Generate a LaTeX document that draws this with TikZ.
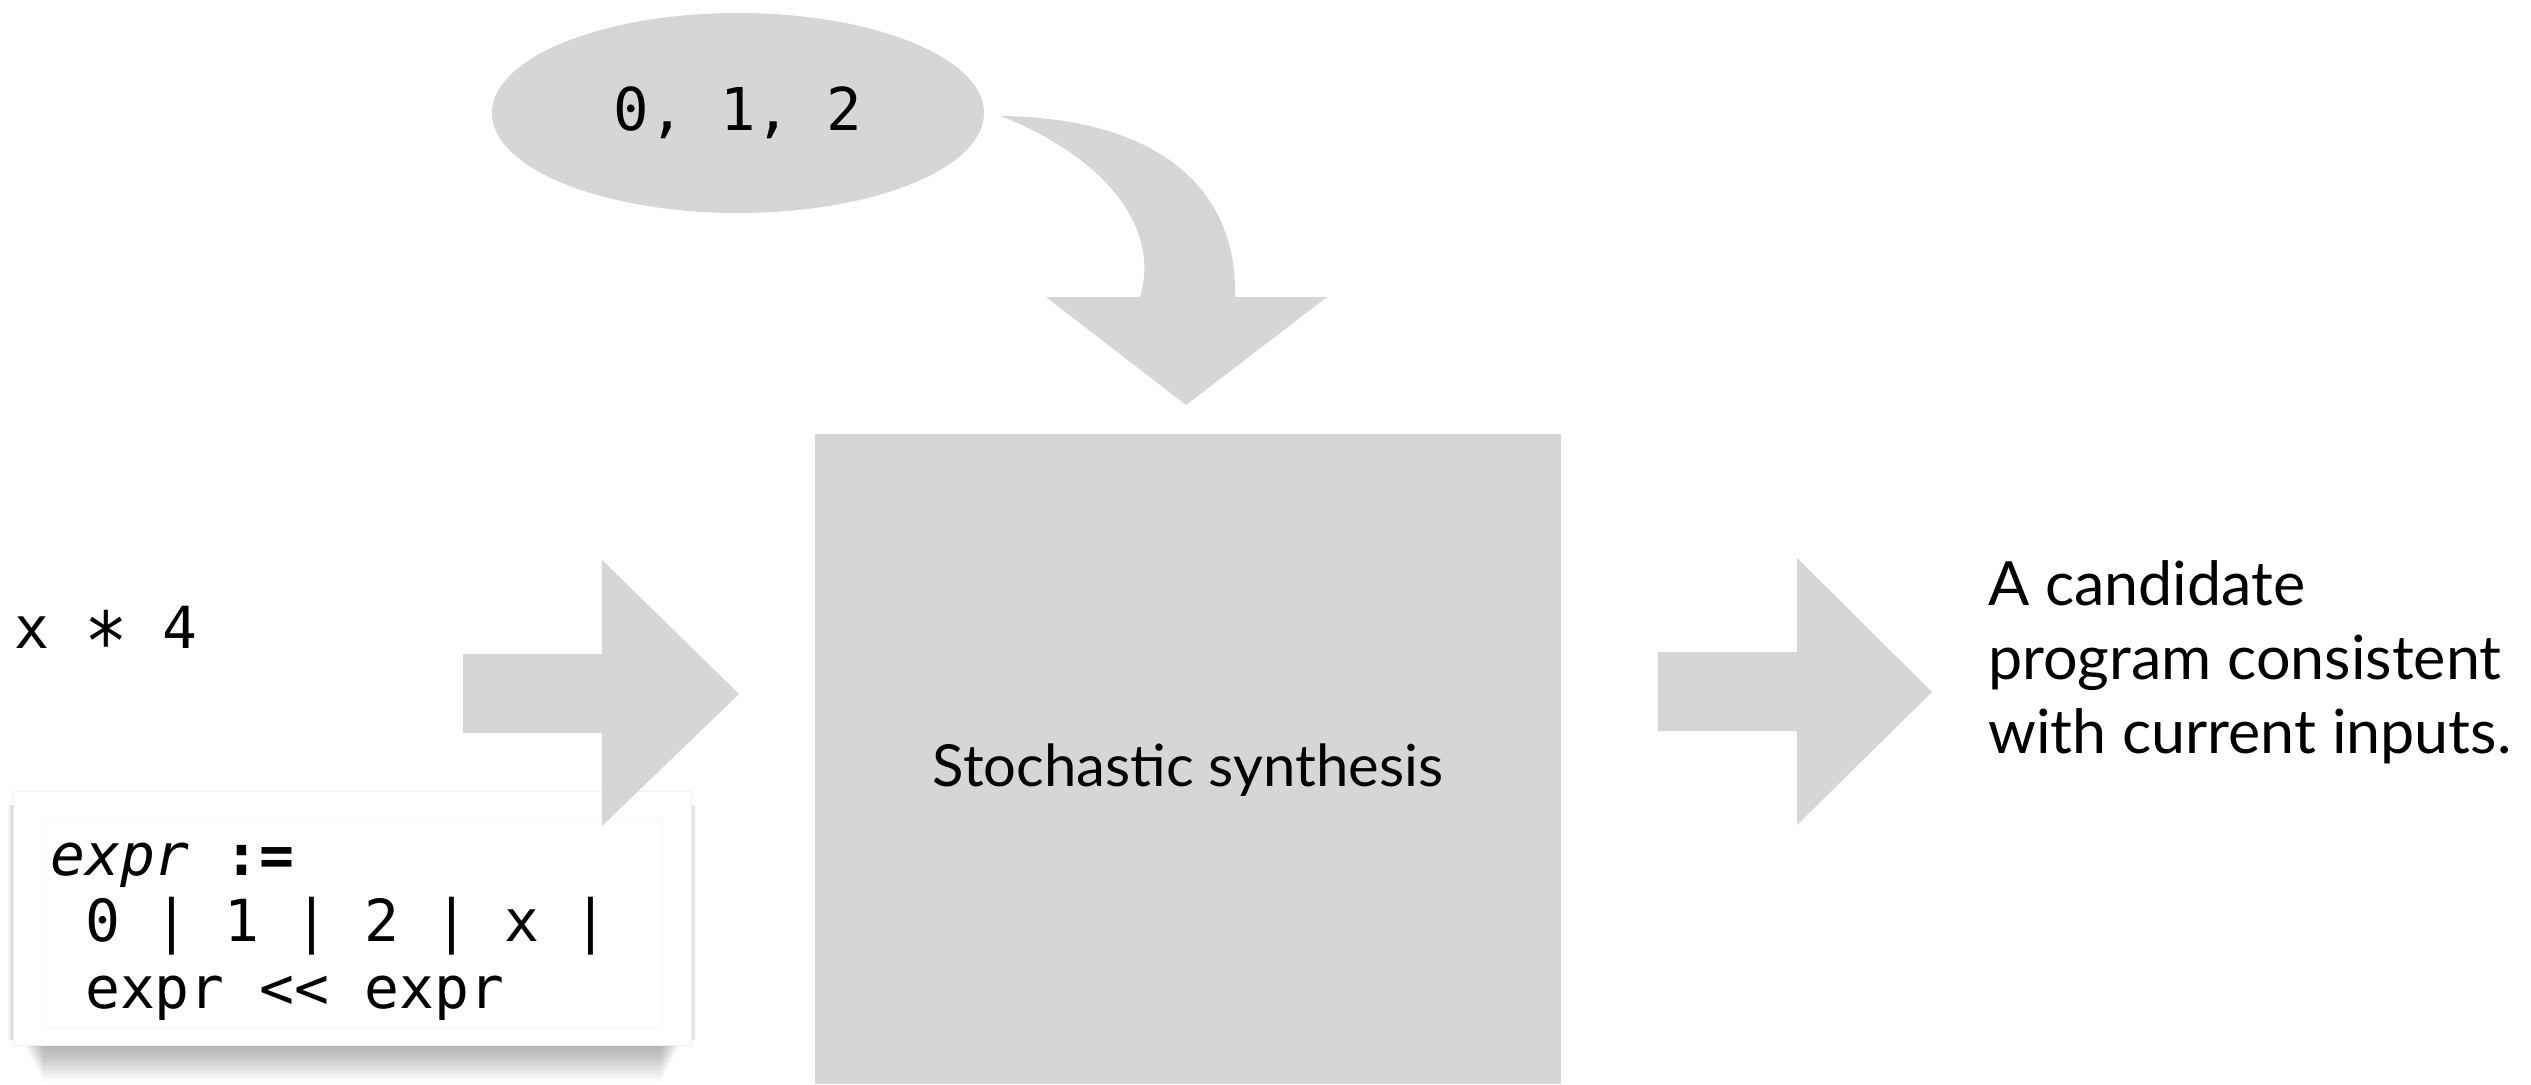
\documentclass[tikz,border=0pt]{standalone}
\usepackage{fontspec}
\setmainfont{Lato}
\newfontfamily\monof{DejaVu Sans Mono}
\usetikzlibrary{shapes.geometric}
\definecolor{blockgray}{RGB}{214,214,214}
\tikzset{
  block/.style={fill=blockgray},
  monotext/.style={inner sep=0, font=\monof\fontsize{58}{66.5}\selectfont},
  sanstext/.style={inner sep=0, font=\fontsize{61}{74}\selectfont},
}
\begin{document}
\begin{tikzpicture}[x=1pt,y=-1pt]
\useasboundingbox (0,0) rectangle (2531,1084);
\fill[white] (0,0) rectangle (2531,1084);

% ellipse with values
\node[ellipse, block, minimum width=492, minimum height=200, inner sep=0,
      font=\monof\fontsize{59}{72}\selectfont] (vals) at (738,113) {0, 1, 2};

% curved arrow from ellipse into box
\coordinate (cstart) at (1001,116);
\fill[blockgray] (cstart) .. controls (1160,118) and (1238,190) .. (1235,297)
  -- (1327,297) -- (1186,405) -- (1046,297) -- (1140,297)
  .. controls (1160,230) and (1110,160) .. (cstart) -- cycle;

% main box
\node[block, minimum width=746, minimum height=650, inner sep=0] (synth) at (1188,759) {};
\node[sanstext, font=\fontsize{58}{70}\selectfont, anchor=base] (synthlabel) at (1188,786) {Stochastic synthesis};

% input expression
\node[monotext, anchor=base west] (xexpr) at (14,648)
  {x \raisebox{-0.38em}{\scalebox{1.25}[1.4]{*}} 4};

% grammar card with shadow
\foreach \i in {0,...,14}
  \fill[black, opacity=0.022] (22+1.5*\i,1035) rectangle (682-1.5*\i,1043+2.7*\i);
\foreach \i in {1,...,5}
  \fill[black, opacity=0.03] (13-\i,805) rectangle (691+\i,1040);
\node[draw=gray!12, fill=white, line width=1pt, minimum width=678, minimum height=254, inner sep=0] (card) at (352,918) {};
\draw[gray!7] (42,817) rectangle (662,1027);
\node[monotext, anchor=base west] (grammar) at (50,875)
  {\begin{tabular}[t]{@{}l@{}}\textit{expr} \textbf{:=}\\
   \phantom{0}0 | 1 | 2 | x |\\
   \phantom{0}expr << expr\end{tabular}};

% left arrow into box
\fill[blockgray] (463,654) -- (602,654) -- (602,560) -- (739,694) -- (602,826) -- (602,733) -- (463,733) -- cycle;

% right arrow out of box
\fill[blockgray] (1658,652) -- (1797,652) -- (1797,558) -- (1932,692) -- (1797,825) -- (1797,731) -- (1658,731) -- cycle;

% output text
\node[sanstext, anchor=base west] (result) at (1988,605)
  {\begin{tabular}[t]{@{}l@{}}A candidate\\ program consistent\\ with current inputs.\end{tabular}};
\end{tikzpicture}
\end{document}
